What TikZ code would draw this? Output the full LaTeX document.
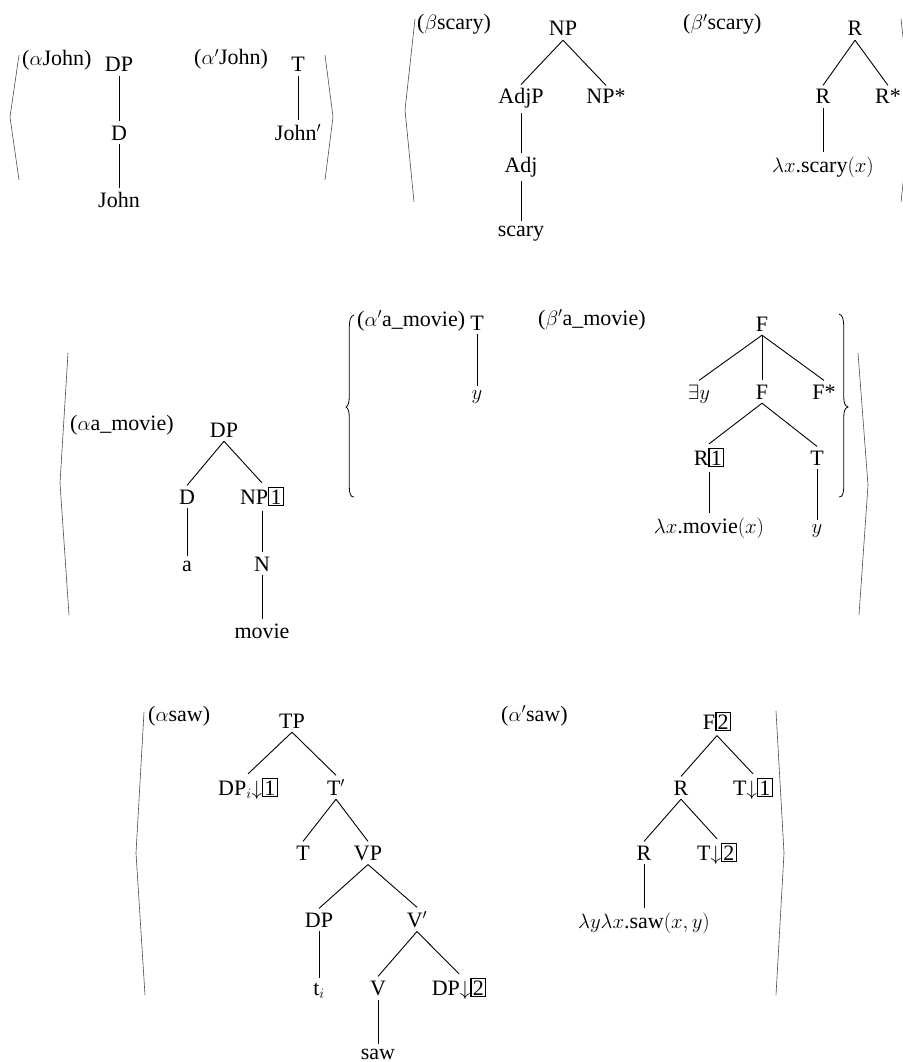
\documentclass[tikz,border=0pt]{standalone}
\usepackage{fontspec}
\setmainfont{Liberation Serif}
\setlength{\fboxsep}{1.1pt}
\setlength{\fboxrule}{1.3pt}
\newcommand{\boxnum}[1]{\fbox{#1}}
\begin{document}
\begin{tikzpicture}[x=1pt,y=-1pt,
  font=\fontsize{22}{26}\selectfont,
  tn/.style={anchor=base, inner xsep=1pt, inner ysep=4pt},
  lbl/.style={anchor=base west, inner sep=0pt},
  edge/.style={line width=0.9pt},
  abr/.style={draw=black!70, line width=0.6pt},
  cbr/.style={draw=black, line width=0.8pt}]
\useasboundingbox (0,0) rectangle (902,1062);

% ---------- row 1 ----------
\draw[abr] (19,55) -- (10,117) -- (19,180);
\draw[abr] (325,55) -- (333,117) -- (325,180);
\draw[abr] (415,19) -- (405,110) -- (414,202);
\draw[abr] (901,19) -- (911,110) -- (901,202);

\node[lbl] (lA) at (22,66) {($\alpha$John)};
\node[tn] (a1) at (119,72) {DP};
\node[tn] (a2) at (119,140) {D};
\node[tn] (a3) at (119,207) {John};

\node[lbl] (lB) at (194,65) {($\alpha'$John)};
\node[tn] (b1) at (298,72) {T};
\node[tn] (b2) at (298,140) {John$'$};

\node[lbl] (lC) at (417,30) {($\beta$scary)};
\node[tn] (c1) at (563,36) {NP};
\node[tn] (c2) at (521,104) {AdjP};
\node[tn] (c3) at (606,104) {NP*};
\node[tn] (c4) at (521,172) {Adj};
\node[tn] (c5) at (521,236) {scary};

\node[lbl] (lD) at (683,30) {($\beta'$scary)};
\node[tn] (d1) at (855,36) {R};
\node[tn] (d2) at (823,104) {R};
\node[tn] (d3) at (888,104) {R*};
\node[tn] (d4) at (823,172) {$\lambda x$.scary$(x)$};

% ---------- row 2 ----------
\draw[abr] (68,353) -- (60,483) -- (69,615);
\draw[abr] (858,353) -- (868,485) -- (859,615);
\draw[cbr] (354,315) .. controls (350.5,316) and (349.3,320) .. (349.3,328)
  -- (349.3,396) .. controls (349.3,403) and (348,406) .. (346,407)
  .. controls (348,408) and (349.3,411) .. (349.3,418)
  -- (349.3,486) .. controls (349.3,494) and (350.5,497) .. (354,497);
\draw[cbr] (839,314) .. controls (842.5,315) and (843.7,319) .. (843.7,327)
  -- (843.7,396) .. controls (843.7,403) and (845,406) .. (848,407)
  .. controls (845,408) and (843.7,411) .. (843.7,418)
  -- (843.7,486) .. controls (843.7,494) and (842.5,497) .. (839,497);

\node[lbl] (lE) at (70,430) {($\alpha$a\_movie)};
\node[tn] (e1) at (224,437) {DP};
\node[tn] (e2) at (187,504) {D};
\node[tn] (e3) at (262,504) {NP\boxnum{1}};
\node[tn] (e4) at (187,571) {a};
\node[tn] (e5) at (262,571) {N};
\node[tn] (e6) at (262,638) {movie};

\node[lbl] (lF) at (357,326) {($\alpha'$a\_movie)};
\node[tn] (f1) at (477,330) {T};
\node[tn] (f2) at (477,399) {$y$};

\node[lbl] (lG) at (538,325) {($\beta'$a\_movie)};
\node[tn] (g1) at (762,331) {F};
\node[tn] (g2) at (699,399) {$\exists y$};
\node[tn] (g3) at (762,399) {F};
\node[tn] (g4) at (824,399) {F*};
\node[tn] (g5) at (709,465) {R\boxnum{1}};
\node[tn] (g6) at (817,465) {T};
\node[tn] (g7) at (709,533) {$\lambda x$.movie$(x)$};
\node[tn] (g8) at (817,533) {$y$};

% ---------- row 3 ----------
\draw[abr] (144,712) -- (136,853) -- (145,995);
\draw[abr] (776,711) -- (784,853) -- (776,995);

\node[lbl] (lH) at (148,721) {($\alpha$saw)};
\node[tn] (h1) at (292,728) {TP};
\node[tn] (h2) at (248,795) {DP$_i{\downarrow}$\boxnum{1}};
\node[tn] (h3) at (336,795) {T$'$};
\node[tn] (h4) at (303,860) {T};
\node[tn] (h5) at (368,860) {VP};
\node[tn] (h6) at (319,927) {DP};
\node[tn] (h7) at (417,927) {V$'$};
\node[tn] (h8) at (319,995) {t$_i$};
\node[tn] (h9) at (378,995) {V};
\node[tn] (h10) at (459,995) {DP$\downarrow$\boxnum{2}};
\node[tn] (h11) at (378,1059) {saw};

\node[lbl] (lI) at (501,721) {($\alpha'$saw)};
\node[tn] (i1) at (717,729) {F\boxnum{2}};
\node[tn] (i2) at (681,795) {R};
\node[tn] (i3) at (753,795) {T$\downarrow$\boxnum{1}};
\node[tn] (i4) at (644,860) {R};
\node[tn] (i5) at (717,860) {T$\downarrow$\boxnum{2}};
\node[tn] (i6) at (644,928) {$\lambda y\lambda x$.saw$(x,y)$};

% ---------- edges ----------
\foreach \p/\c in {a1/a2,a2/a3,b1/b2,c1/c2,c1/c3,c2/c4,c4/c5,d1/d2,d1/d3,d2/d4,
  e1/e2,e1/e3,e2/e4,e3/e5,e5/e6,f1/f2,g1/g2,g1/g3,g1/g4,g3/g5,g3/g6,g5/g7,g6/g8,
  h1/h2,h1/h3,h3/h4,h3/h5,h5/h6,h5/h7,h6/h8,h7/h9,h7/h10,h9/h11,
  i1/i2,i1/i3,i2/i4,i2/i5,i4/i6}
  \draw[edge] (\p.south) -- (\c.north);
\end{tikzpicture}
\end{document}
